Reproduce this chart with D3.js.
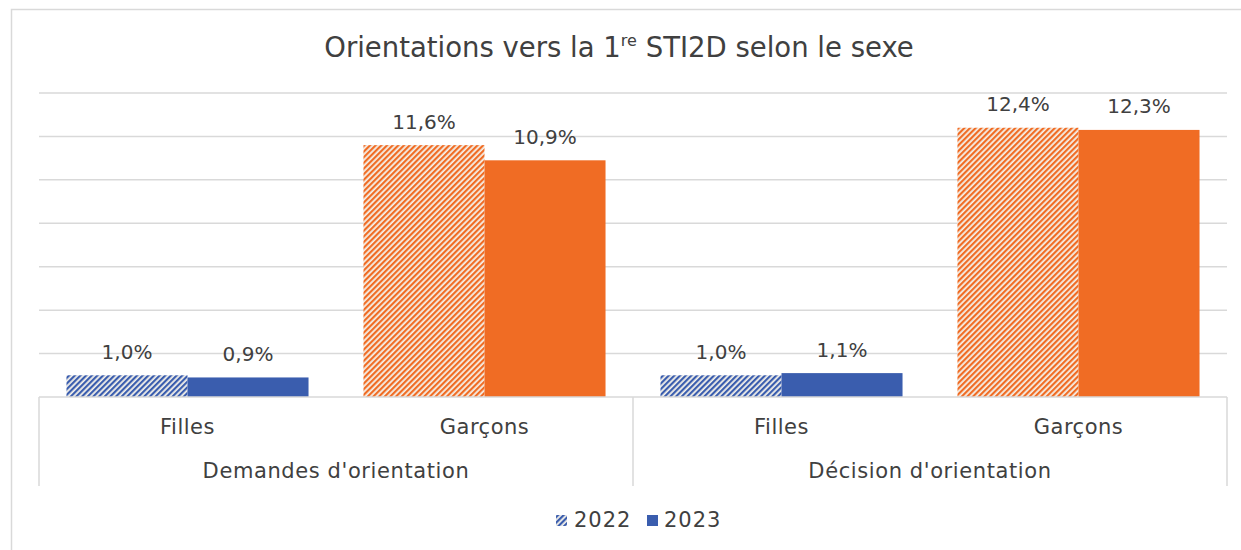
<!DOCTYPE html>
<html>
<head>
<meta charset="utf-8">
<script src="https://cdn.jsdelivr.net/npm/d3@7"></script>
<style>
  body { margin: 0; background: #fff; }
  text { font-family: "DejaVu Sans", sans-serif; fill: #404040; }
</style>
</head>
<body>
<div id="chart"></div>
<script>
// Data
const groups = ["Demandes d'orientation", "Décision d'orientation"];
const categories = ["Filles", "Garçons"];
const years = ["2022", "2023"];
const values2022 = [1.0, 11.6, 1.0, 12.4];
const values2023 = [0.9, 10.9, 1.1, 12.3];
const yTicks = [0, 2, 4, 6, 8, 10, 12, 14];

const W = 1241, H = 550;
const margin = {top: 93, left: 39, right: 14, bottom: 153};
const width = W - margin.left - margin.right,
    height = H - margin.top - margin.bottom;

const blue = "#3a5dae", orange = "#f06c24", grid = "#d9d9d9";

const svg = d3.select("#chart").append("svg")
    .attr("width", W).attr("height", H);

// Patterns for 2022 (hatched)
const defs = svg.append("defs");
function hatch(id, color) {
    const p = defs.append("pattern")
        .attr("id", id)
        .attr("patternUnits", "userSpaceOnUse")
        .attr("width", 4).attr("height", 4)
        .attr("patternTransform", "rotate(45)");
    p.append("rect").attr("width", 4).attr("height", 4).attr("fill", "#f4f1ea");
    p.append("rect").attr("width", 2.2).attr("height", 4).attr("fill", color);
}
hatch("hatchBlue", blue);
hatch("hatchOrange", orange);

// Outer frame
svg.append("rect")
    .attr("x", 11.5).attr("y", 9.5)
    .attr("width", W).attr("height", H)
    .attr("fill", "none").attr("stroke", grid).attr("stroke-width", 1.5);

const g = svg.append("g")
    .attr("transform", "translate(" + margin.left + "," + margin.top + ")");

// Scales
const rows = [];
groups.forEach((grp, gi) => categories.forEach((cat, ci) => {
    const i = gi * 2 + ci;
    rows.push({key: grp + "|" + cat, group: grp, cat: cat, gi: gi,
        v: [values2022[i], values2023[i]]});
}));

const x = d3.scaleBand().domain(rows.map(d => d.key)).range([0, width]).paddingInner(0).paddingOuter(0);
const xs = d3.scaleBand().domain(years).range([0, x.bandwidth()]).paddingInner(0).paddingOuter(0.227);
const y = d3.scaleLinear().domain([0, 14]).range([height, 0]);

// Gridlines
g.append("g").selectAll("line")
    .data(yTicks.slice(1))
    .join("line")
    .attr("x1", 0).attr("x2", width)
    .attr("y1", d => y(d)).attr("y2", d => y(d))
    .attr("stroke", grid).attr("stroke-width", 1.5);

// Bars
const bar = g.selectAll(".cat")
    .data(rows)
    .join("g")
    .attr("transform", d => "translate(" + x(d.key) + ",0)");

bar.selectAll("rect")
    .data(d => d.v.map((v, i) => ({year: years[i], v: v, cat: d.cat})))
    .join("rect")
    .attr("x", d => xs(d.year))
    .attr("width", xs.bandwidth())
    .attr("y", d => y(d.v))
    .attr("height", d => height - y(d.v))
    .attr("fill", d => {
        const c = d.cat === "Filles" ? "Blue" : "Orange";
        return d.year === "2022" ? "url(#hatch" + c + ")" : (c === "Blue" ? blue : orange);
    });

bar.selectAll(".lbl")
    .data(d => d.v.map((v, i) => ({year: years[i], v: v})))
    .join("text")
    .attr("class", "lbl")
    .attr("x", d => xs(d.year) + xs.bandwidth() / 2)
    .attr("y", d => y(d.v) - 16.5)
    .attr("text-anchor", "middle")
    .attr("font-size", 20)
    .text(d => d3.format(".1f")(d.v).replace(".", ",") + "%");

// Baseline and multi-level axis
const axisBottom = height + 89;
g.append("line")
    .attr("x1", 0).attr("x2", width).attr("y1", height).attr("y2", height)
    .attr("stroke", grid).attr("stroke-width", 1.5);
[0, width / 2, width].forEach(px => {
    g.append("line")
        .attr("x1", px).attr("x2", px).attr("y1", height).attr("y2", axisBottom)
        .attr("stroke", grid).attr("stroke-width", 1.5);
});

g.selectAll(".catlbl")
    .data(rows)
    .join("text")
    .attr("class", "catlbl")
    .attr("x", d => x(d.key) + x.bandwidth() / 2)
    .attr("y", height + 37)
    .attr("text-anchor", "middle")
    .attr("font-size", 21)
    .attr("letter-spacing", 0.5)
    .text(d => d.cat);

g.selectAll(".grplbl")
    .data(groups)
    .join("text")
    .attr("class", "grplbl")
    .attr("x", (d, i) => (i + 0.5) * width / 2)
    .attr("y", height + 81)
    .attr("text-anchor", "middle")
    .attr("font-size", 21)
    .attr("letter-spacing", 0.6)
    .text(d => d);

// Title
const title = svg.append("text")
    .attr("x", 619).attr("y", 57)
    .attr("text-anchor", "middle")
    .attr("font-size", 27.5);
title.append("tspan").text("Orientations vers la 1");
title.append("tspan").attr("font-size", 16).attr("dy", -11).text("re");
title.append("tspan").attr("dy", 11).text(" STI2D selon le sexe");

// Legend
const legend = svg.append("g").attr("transform", "translate(556,527)");
legend.append("rect").attr("x", 0).attr("y", -12).attr("width", 11).attr("height", 11).attr("fill", "url(#hatchBlue)");
legend.append("text").attr("x", 18).attr("y", 0).attr("font-size", 21).attr("letter-spacing", 1).text(years[0]);
legend.append("rect").attr("x", 91).attr("y", -12).attr("width", 11).attr("height", 11).attr("fill", blue);
legend.append("text").attr("x", 108).attr("y", 0).attr("font-size", 21).attr("letter-spacing", 1).text(years[1]);
</script>
</body>
</html>
